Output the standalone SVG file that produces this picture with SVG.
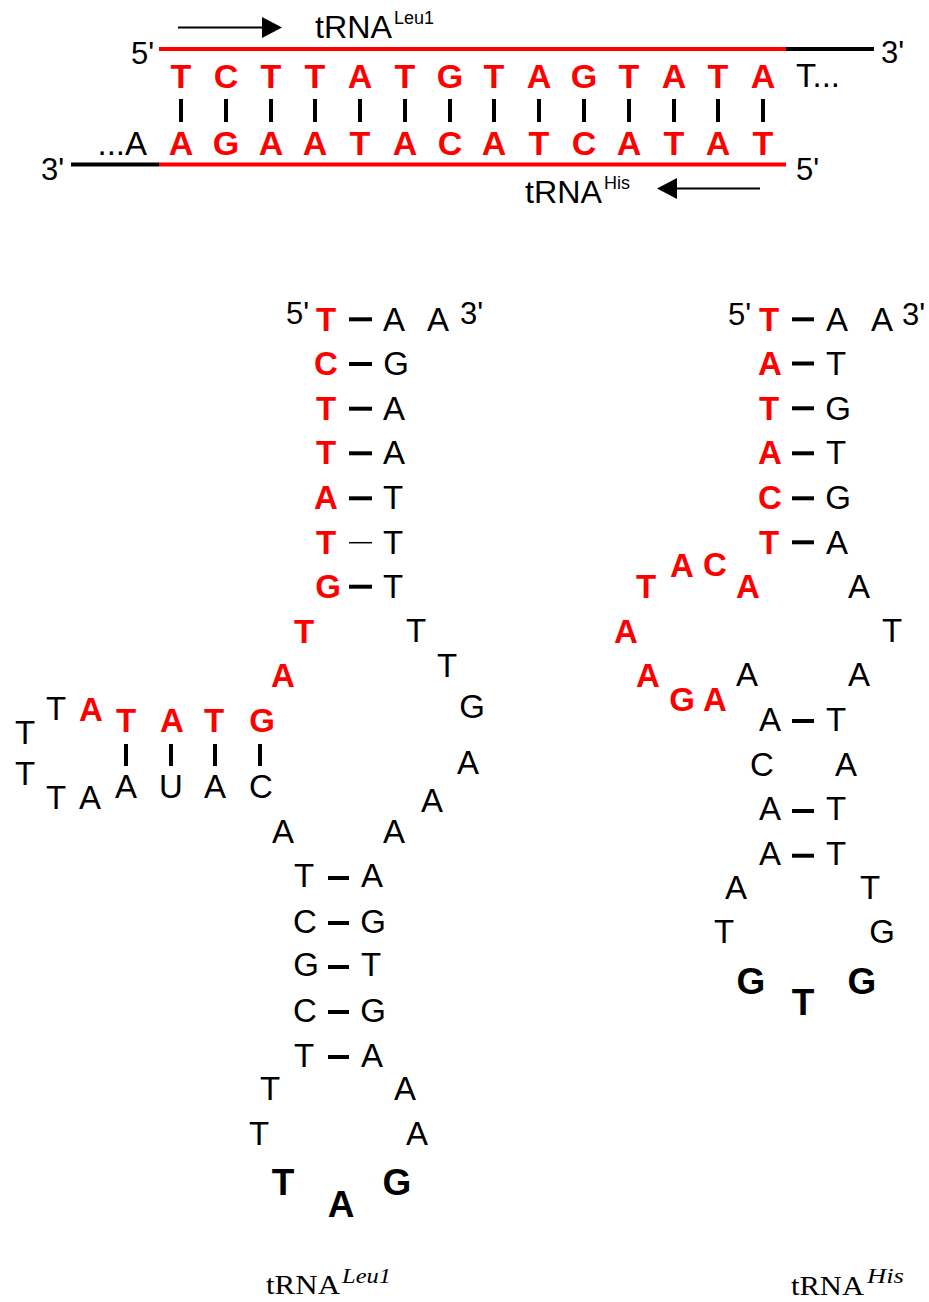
<svg xmlns="http://www.w3.org/2000/svg" width="929" height="1302" viewBox="0 0 929 1302">
<style>
text{font-family:"Liberation Sans",Arial,sans-serif}
.r{font-weight:bold;font-size:33px;fill:#ff0000;text-anchor:middle}
.t{font-weight:bold;font-size:34px;fill:#ff0000;text-anchor:middle}
.b{font-size:33px;fill:#000;text-anchor:middle}
.k{font-weight:bold;font-size:37px;fill:#000;text-anchor:middle}
.p{font-size:31px;fill:#000}
.lab{font-size:32px;fill:#000}
.sup{font-size:18px;fill:#000}
.serif{font-family:"Liberation Serif","Times New Roman",serif;fill:#000}
.bar{stroke:#000;stroke-width:4}
.thin{stroke:#000;stroke-width:1.5}
.red{stroke:#ff0000;stroke-width:4}
.blk{stroke:#000;stroke-width:4}
.arr{stroke:#000;stroke-width:2;marker-end:url(#ah)}
</style>
<defs>
<marker id="ah" markerUnits="userSpaceOnUse" markerWidth="20" markerHeight="21" viewBox="0 0 20 21" refX="0" refY="10.5" orient="auto">
<path d="M0,0 L20,10.5 L0,21 z" fill="#000"/>
</marker>
</defs>

<g id="connectors">
<line class="red" x1="159" y1="49" x2="786" y2="49"/>
<line class="blk" x1="786" y1="49" x2="874" y2="49"/>
<line class="red" x1="159" y1="164.5" x2="786" y2="164.5"/>
<line class="blk" x1="71" y1="164.5" x2="159" y2="164.5"/>
<line class="arr" x1="178" y1="27.5" x2="262" y2="27.5"/>
<line class="arr" x1="760" y1="188.5" x2="677" y2="188.5"/>
<g class="bar">
<line x1="181" y1="99" x2="181" y2="122"/>
<line x1="226" y1="99" x2="226" y2="122"/>
<line x1="271" y1="99" x2="271" y2="122"/>
<line x1="315" y1="99" x2="315" y2="122"/>
<line x1="360" y1="99" x2="360" y2="122"/>
<line x1="405" y1="99" x2="405" y2="122"/>
<line x1="450" y1="99" x2="450" y2="122"/>
<line x1="494" y1="99" x2="494" y2="122"/>
<line x1="539" y1="99" x2="539" y2="122"/>
<line x1="584" y1="99" x2="584" y2="122"/>
<line x1="629" y1="99" x2="629" y2="122"/>
<line x1="674" y1="99" x2="674" y2="122"/>
<line x1="718" y1="99" x2="718" y2="122"/>
<line x1="763" y1="99" x2="763" y2="122"/>
</g>
<g class="bar">
<line x1="349" y1="319.3" x2="372" y2="319.3"/>
<line x1="349" y1="364" x2="372" y2="364"/>
<line x1="349" y1="408.7" x2="372" y2="408.7"/>
<line x1="349" y1="453.3" x2="372" y2="453.3"/>
<line x1="349" y1="498.3" x2="372" y2="498.3"/>
<line x1="349" y1="586.7" x2="372" y2="586.7"/>
<line x1="126" y1="744" x2="126" y2="766"/>
<line x1="171" y1="744" x2="171" y2="766"/>
<line x1="215" y1="744" x2="215" y2="766"/>
<line x1="260" y1="744" x2="260" y2="766"/>
<line x1="328" y1="878" x2="349" y2="878"/>
<line x1="328" y1="923" x2="349" y2="923"/>
<line x1="328" y1="967" x2="349" y2="967"/>
<line x1="328" y1="1012" x2="349" y2="1012"/>
<line x1="328" y1="1057" x2="349" y2="1057"/>
</g>
<line class="thin" x1="349" y1="542.7" x2="372" y2="542.7"/>
<g class="bar">
<line x1="792" y1="319.3" x2="814" y2="319.3"/>
<line x1="792" y1="363.5" x2="814" y2="363.5"/>
<line x1="792" y1="408.3" x2="814" y2="408.3"/>
<line x1="792" y1="453.3" x2="814" y2="453.3"/>
<line x1="792" y1="498.3" x2="814" y2="498.3"/>
<line x1="792" y1="542.3" x2="814" y2="542.3"/>
<line x1="792" y1="721" x2="814" y2="721"/>
<line x1="792" y1="811" x2="814" y2="811"/>
<line x1="792" y1="855.7" x2="814" y2="855.7"/>
</g>
</g>

<g id="duplex">
<text class="lab" x="315" y="38" textLength="77" lengthAdjust="spacingAndGlyphs">tRNA</text>
<text class="sup" x="394" y="24" textLength="40" lengthAdjust="spacingAndGlyphs">Leu1</text>
<text class="lab" x="525" y="203" textLength="77" lengthAdjust="spacingAndGlyphs">tRNA</text>
<text class="sup" x="604" y="189">His</text>
<text class="p" x="131" y="64">5'</text>
<text class="p" x="881" y="63">3'</text>
<text class="p" x="41" y="180">3'</text>
<text class="p" x="796" y="180">5'</text>
<text class="b" x="796" y="87" style="text-anchor:start">T...</text>
<text class="b" x="147" y="155" style="text-anchor:end">...A</text>
<text class="t" y="88"><tspan x="181">T</tspan><tspan x="226">C</tspan><tspan x="271">T</tspan><tspan x="315">T</tspan><tspan x="360">A</tspan><tspan x="405">T</tspan><tspan x="450">G</tspan><tspan x="494">T</tspan><tspan x="539">A</tspan><tspan x="584">G</tspan><tspan x="629">T</tspan><tspan x="674">A</tspan><tspan x="718">T</tspan><tspan x="763">A</tspan></text>
<text class="t" y="155"><tspan x="181">A</tspan><tspan x="226">G</tspan><tspan x="271">A</tspan><tspan x="315">A</tspan><tspan x="360">T</tspan><tspan x="405">A</tspan><tspan x="450">C</tspan><tspan x="494">A</tspan><tspan x="539">T</tspan><tspan x="584">C</tspan><tspan x="629">A</tspan><tspan x="674">T</tspan><tspan x="718">A</tspan><tspan x="763">T</tspan></text>
</g>

<g id="tRNA-Leu1">
<text class="p" x="286" y="324">5'</text>
<text class="p" x="460" y="324">3'</text>
<text class="r" x="326" y="331">T</text>
<text class="r" x="326" y="375">C</text>
<text class="r" x="326" y="419.5">T</text>
<text class="r" x="326" y="464">T</text>
<text class="r" x="326" y="509">A</text>
<text class="r" x="326" y="553.5">T</text>
<text class="r" x="328" y="598">G</text>
<text class="b" x="394" y="331">A</text>
<text class="b" x="396" y="375">G</text>
<text class="b" x="394" y="419.5">A</text>
<text class="b" x="394" y="464">A</text>
<text class="b" x="393" y="509">T</text>
<text class="b" x="393" y="553.5">T</text>
<text class="b" x="393" y="598">T</text>
<text class="b" x="438" y="331">A</text>
<text class="r" x="304" y="643">T</text>
<text class="r" x="283" y="687">A</text>
<text class="b" x="416" y="642">T</text>
<text class="b" x="447" y="677">T</text>
<text class="b" x="472" y="718">G</text>
<text class="b" x="468" y="774">A</text>
<text class="b" x="432" y="812">A</text>
<text class="b" x="394" y="843">A</text>
<text class="b" x="283" y="843">A</text>
<text class="r" x="262" y="732">G</text>
<text class="r" x="214" y="732">T</text>
<text class="r" x="172" y="732">A</text>
<text class="r" x="126" y="732">T</text>
<text class="r" x="91" y="721">A</text>
<text class="b" x="56" y="720">T</text>
<text class="b" x="25" y="744">T</text>
<text class="b" x="25" y="785">T</text>
<text class="b" x="56" y="809">T</text>
<text class="b" x="90" y="809">A</text>
<text class="b" x="126" y="798">A</text>
<text class="b" x="171" y="798">U</text>
<text class="b" x="215" y="798">A</text>
<text class="b" x="261" y="798">C</text>
<text class="b" x="304" y="887">T</text>
<text class="b" x="305" y="932.5">C</text>
<text class="b" x="306" y="976">G</text>
<text class="b" x="305" y="1021.5">C</text>
<text class="b" x="304" y="1066.5">T</text>
<text class="b" x="372" y="887">A</text>
<text class="b" x="373" y="932.5">G</text>
<text class="b" x="371" y="976">T</text>
<text class="b" x="373" y="1021.5">G</text>
<text class="b" x="372" y="1066.5">A</text>
<text class="b" x="270" y="1100">T</text>
<text class="b" x="405" y="1100">A</text>
<text class="b" x="259" y="1145">T</text>
<text class="b" x="417" y="1145">A</text>
<text class="k" x="283" y="1195">T</text>
<text class="k" x="341" y="1217">A</text>
<text class="k" x="397" y="1195">G</text>
<text class="serif" x="266" y="1294" font-size="27" textLength="74" lengthAdjust="spacingAndGlyphs">tRNA</text>
<text class="serif" x="342" y="1283" font-size="20" font-style="italic" textLength="49" lengthAdjust="spacingAndGlyphs">Leu1</text>
</g>

<g id="tRNA-His">
<text class="p" x="728" y="325">5'</text>
<text class="p" x="902" y="325">3'</text>
<text class="r" x="769" y="331">T</text>
<text class="r" x="770" y="375">A</text>
<text class="r" x="769" y="419.5">T</text>
<text class="r" x="770" y="464">A</text>
<text class="r" x="770" y="509">C</text>
<text class="r" x="769" y="553.5">T</text>
<text class="b" x="837" y="331">A</text>
<text class="b" x="836" y="375">T</text>
<text class="b" x="838" y="419.5">G</text>
<text class="b" x="836" y="464">T</text>
<text class="b" x="838" y="509">G</text>
<text class="b" x="837" y="553.5">A</text>
<text class="b" x="882" y="331">A</text>
<text class="r" x="646" y="598">T</text>
<text class="r" x="682" y="577">A</text>
<text class="r" x="715" y="576">C</text>
<text class="r" x="748" y="598">A</text>
<text class="r" x="626" y="643">A</text>
<text class="r" x="648" y="687">A</text>
<text class="r" x="682" y="711">G</text>
<text class="r" x="715" y="711">A</text>
<text class="b" x="859" y="598">A</text>
<text class="b" x="892" y="642">T</text>
<text class="b" x="747" y="686">A</text>
<text class="b" x="859" y="686">A</text>
<text class="b" x="770" y="731">A</text>
<text class="b" x="836" y="731">T</text>
<text class="b" x="762" y="776">C</text>
<text class="b" x="846" y="776">A</text>
<text class="b" x="770" y="820">A</text>
<text class="b" x="836" y="820">T</text>
<text class="b" x="770" y="865">A</text>
<text class="b" x="836" y="865">T</text>
<text class="b" x="736" y="899">A</text>
<text class="b" x="870" y="899">T</text>
<text class="b" x="724" y="943">T</text>
<text class="b" x="882" y="943">G</text>
<text class="k" x="751" y="994">G</text>
<text class="k" x="803" y="1015">T</text>
<text class="k" x="862" y="994">G</text>
<text class="serif" x="791" y="1295" font-size="27" textLength="73" lengthAdjust="spacingAndGlyphs">tRNA</text>
<text class="serif" x="867" y="1283" font-size="20" font-style="italic" textLength="37" lengthAdjust="spacingAndGlyphs">His</text>
</g>
</svg>
